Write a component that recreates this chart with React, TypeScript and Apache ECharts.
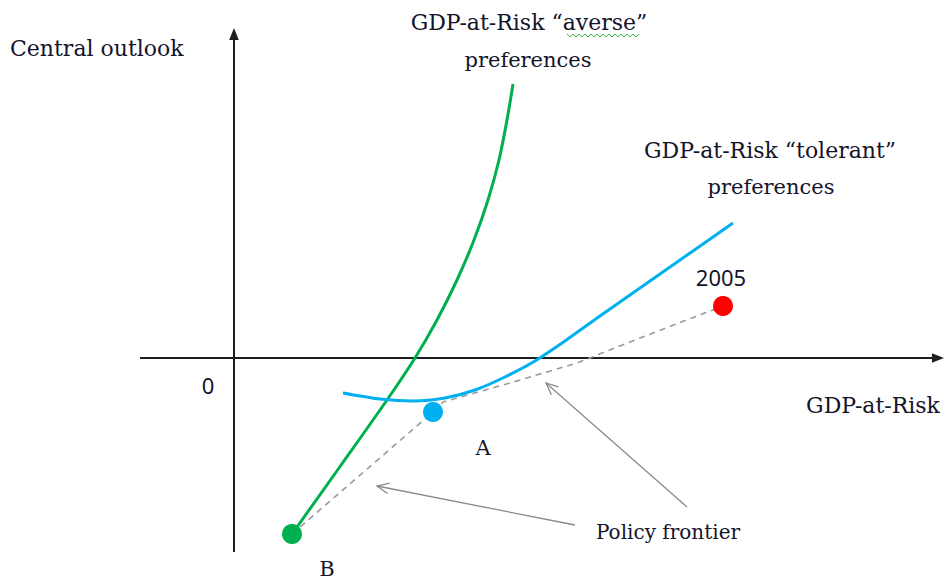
import React, { useEffect, useRef } from "react";
import * as echarts from "echarts";

// Conceptual units: origin at the axes' crossing
const axisSegments = [
  [-9.4, 0, 71, 0],
  [0, -19.4, 0, 33],
];
const pointerSegments = [
  [34.1, -16.7, 14.3, -12.8],
  [45.3, -14.9, 31.2, -2.5],
];
const averseCurve = [
  [5.8, -17.6], [10.5, -11.0], [15.3, -4.2], [18.1, 0], [20.3, 3.8],
  [22.3, 7.8], [24.0, 11.8], [25.4, 15.8], [26.5, 19.8], [27.3, 23.8],
  [27.9, 27.4],
];
const tolerantCurve = [
  [10.9, -3.5], [14.6, -4.1], [17.9, -4.3], [21.1, -4.0], [24.1, -3.2],
  [27.1, -1.9], [30.1, -0.3], [33.1, 1.7], [36.6, 4.2], [42.6, 8.4], [49.9, 13.5],
];
const policyFrontier = [
  [5.8, -17.6], [19.9, -5.4], [20.9, -4.4], [27.6, -2.5], [34.3, -0.5],
  [40.6, 2.0], [48.9, 5.2],
];
const pointA = [19.9, -5.4];
const pointB = [5.8, -17.6];
const point2005 = [48.9, 5.2];

const GREEN = "#00b050";
const BLUE = "#00b0f0";
const RED = "#ff0000";
const SERIF = "DejaVu Serif";
const SANS = "Noto Sans";

function arrowRenderer(color: string, width: number, filled: boolean, headLen: number) {
  return (params: any, api: any) => {
    const p1 = api.coord([api.value(0), api.value(1)]);
    const p2 = api.coord([api.value(2), api.value(3)]);
    const ang = Math.atan2(p2[1] - p1[1], p2[0] - p1[0]);
    const w = filled ? 0.38 : 0.42;
    const a = [p2[0] - headLen * Math.cos(ang - w), p2[1] - headLen * Math.sin(ang - w)];
    const b = [p2[0] - headLen * Math.cos(ang + w), p2[1] - headLen * Math.sin(ang + w)];
    const end = filled
      ? [p2[0] - headLen * 0.8 * Math.cos(ang), p2[1] - headLen * 0.8 * Math.sin(ang)]
      : p2;
    const head = filled
      ? { type: "polygon", shape: { points: [a, p2, b] }, style: { fill: color } }
      : { type: "polyline", shape: { points: [a, p2, b] }, style: { stroke: color, lineWidth: width, fill: "none" } };
    return {
      type: "group",
      children: [
        { type: "line", shape: { x1: p1[0], y1: p1[1], x2: end[0], y2: end[1] }, style: { stroke: color, lineWidth: width } },
        head,
      ],
    };
  };
}

export default function App() {
  const ref = useRef<HTMLDivElement>(null);
  useEffect(() => {
    document.body.style.margin = "0";
    const chart = echarts.init(ref.current!, null, { renderer: "svg" });
    const txt = (text: string, x: number, y: number, font = SERIF, size = 20, align = "center") => ({
      type: "text",
      x,
      y,
      style: {
        text,
        fill: "#14142a",
        font: `${size}px "${font}"`,
        align,
        verticalAlign: "middle",
      },
    });
    chart.setOption({
      animation: false,
      backgroundColor: "#ffffff",
      grid: { left: 0, right: 0, top: 0, bottom: 0 },
      xAxis: { type: "value", min: -23.4, max: 71.1, show: false },
      yAxis: { type: "value", min: -22.3, max: 35.8, show: false },
      series: [
        {
          type: "custom",
          renderItem: arrowRenderer("#1e1e1e", 2, true, 13),
          data: axisSegments,
          encode: { x: [0, 2], y: [1, 3] },
          silent: true,
          z: 1,
        },
        {
          type: "custom",
          renderItem: arrowRenderer("#8a8a8a", 1.3, false, 13),
          data: pointerSegments,
          encode: { x: [0, 2], y: [1, 3] },
          silent: true,
          z: 1,
        },
        {
          type: "line",
          data: policyFrontier,
          showSymbol: false,
          lineStyle: { color: "#999999", width: 1.6, type: [6, 5] },
          z: 2,
        },
        {
          type: "line",
          data: averseCurve,
          smooth: 0.3,
          showSymbol: false,
          lineStyle: { color: GREEN, width: 3 },
          z: 3,
        },
        {
          type: "line",
          data: tolerantCurve,
          smooth: 0.3,
          showSymbol: false,
          lineStyle: { color: BLUE, width: 3 },
          z: 3,
        },
        {
          type: "scatter",
          symbolSize: 20,
          z: 5,
          itemStyle: { opacity: 1 },
          data: [
            { value: pointA, itemStyle: { color: BLUE, opacity: 1 } },
            { value: pointB, itemStyle: { color: GREEN, opacity: 1 } },
            { value: point2005, itemStyle: { color: RED, opacity: 1 } },
          ],
        },
      ],
      graphic: [
        txt("Central outlook", 10, 48, SERIF, 22, "left"),
        txt("GDP-at-Risk “averse”", 529, 22, SERIF, 22),
        txt("preferences", 528, 60, SERIF, 21),
        txt("GDP-at-Risk “tolerant”", 770, 150, SERIF, 22),
        txt("preferences", 771, 187, SERIF, 21),
        txt("2005", 721, 277, SANS, 22),
        txt("0", 208, 385, SANS, 22),
        txt("A", 483, 448, SERIF, 21),
        txt("B", 327, 569, SERIF, 21),
        txt("Policy frontier", 668, 532, SERIF, 20),
        txt("GDP-at-Risk", 873, 405, SERIF, 22),
        {
          type: "polyline",
          shape: {
            points: [
              [567, 34], [570, 37], [573, 34], [576, 37], [579, 34], [582, 37], [585, 34], [588, 37],
              [591, 34], [594, 37], [597, 34], [600, 37], [603, 34], [606, 37], [609, 34], [612, 37],
              [615, 34], [618, 37], [621, 34], [624, 37], [627, 34], [630, 37], [633, 34], [636, 37], [639, 34],
            ],
          },
          style: { stroke: "#3cb043", lineWidth: 1, fill: "none" },
        },
      ],
    });
    return () => chart.dispose();
  }, []);
  return <div ref={ref} style={{ width: 945, height: 581 }} />;
}
